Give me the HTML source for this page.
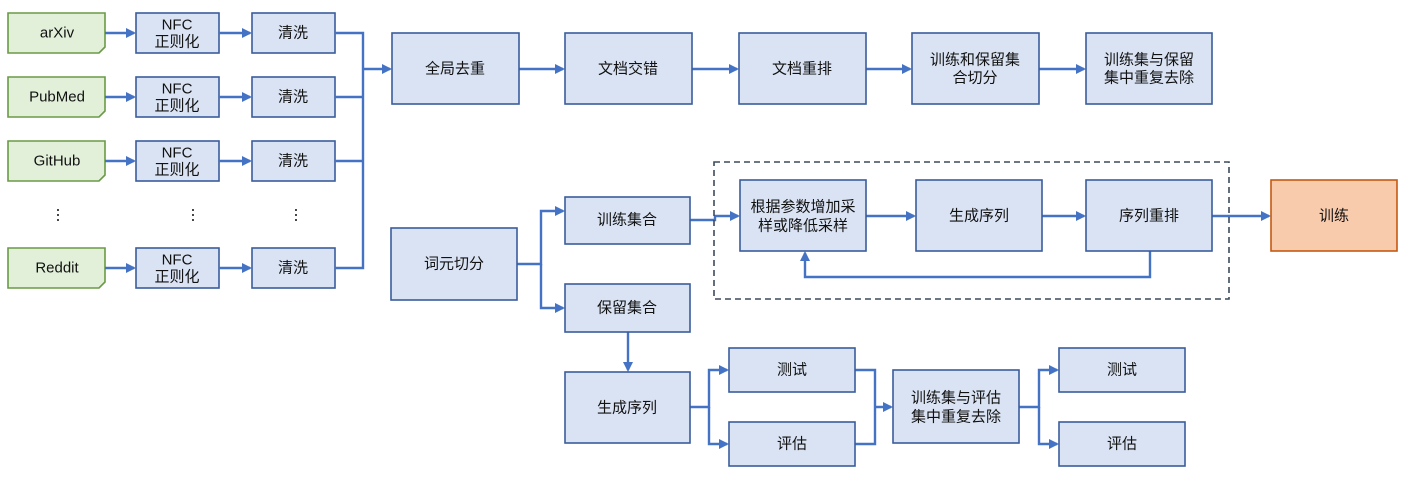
<!DOCTYPE html>
<html><head><meta charset="utf-8"><style>
body{margin:0;background:#fff;width:1418px;height:484px;overflow:hidden}
svg text{font-family:"Liberation Sans","Noto Sans CJK SC",sans-serif;font-size:15px;fill:#111;text-anchor:middle;dominant-baseline:central}
.b{fill:#dae3f3;stroke:#3a5d9c;stroke-width:1.6}
.g{fill:#e2f0d9;stroke:#6a9a45;stroke-width:1.6}
.l{fill:none;stroke:#4472c4;stroke-width:2.4}
</style></head><body>
<svg width="1418" height="484" xmlns="http://www.w3.org/2000/svg">
<defs><marker id="a" markerWidth="10" markerHeight="10" refX="8" refY="5" orient="auto" markerUnits="userSpaceOnUse"><path d="M0,0 L10,5 L0,10 z" fill="#4472c4"/></marker></defs>
<!-- sources -->
<g>
<path class="g" d="M8,13 H105 V47 L99,53 H8 Z"/><text x="57" y="33">arXiv</text>
<path class="g" d="M8,77 H105 V111 L99,117 H8 Z"/><text x="57" y="97">PubMed</text>
<path class="g" d="M8,141 H105 V175 L99,181 H8 Z"/><text x="57" y="161">GitHub</text>
<path class="g" d="M8,248 H105 V282 L99,288 H8 Z"/><text x="57" y="268">Reddit</text>
</g>
<g>
<rect class="b" x="136" y="13" width="83" height="40"/><text x="177" y="25">NFC</text><text x="177" y="42">正则化</text>
<rect class="b" x="136" y="77" width="83" height="40"/><text x="177" y="89">NFC</text><text x="177" y="106">正则化</text>
<rect class="b" x="136" y="141" width="83" height="40"/><text x="177" y="153">NFC</text><text x="177" y="170">正则化</text>
<rect class="b" x="136" y="248" width="83" height="40"/><text x="177" y="260">NFC</text><text x="177" y="277">正则化</text>
<rect class="b" x="252" y="13" width="83" height="40"/><text x="293" y="33">清洗</text>
<rect class="b" x="252" y="77" width="83" height="40"/><text x="293" y="97">清洗</text>
<rect class="b" x="252" y="141" width="83" height="40"/><text x="293" y="161">清洗</text>
<rect class="b" x="252" y="248" width="83" height="40"/><text x="293" y="268">清洗</text>
</g>
<text x="58" y="215">⋮</text><text x="193" y="215">⋮</text><text x="296" y="215">⋮</text>
<g class="l">
<path d="M105,33H134" marker-end="url(#a)"/><path d="M105,97H134" marker-end="url(#a)"/><path d="M105,161H134" marker-end="url(#a)"/><path d="M105,268H134" marker-end="url(#a)"/>
<path d="M219,33H250" marker-end="url(#a)"/><path d="M219,97H250" marker-end="url(#a)"/><path d="M219,161H250" marker-end="url(#a)"/><path d="M219,268H250" marker-end="url(#a)"/>
<path d="M335,33H363V268H335M335,97H363M335,161H363"/>
<path d="M363,69H390" marker-end="url(#a)"/>
<path d="M519,69H563" marker-end="url(#a)"/><path d="M692,69H737" marker-end="url(#a)"/><path d="M866,69H910" marker-end="url(#a)"/><path d="M1039,69H1084" marker-end="url(#a)"/>
<path d="M517,264H541V211H563" marker-end="url(#a)"/><path d="M541,264V308H563" marker-end="url(#a)"/>
<path d="M690,220H715V216H738" marker-end="url(#a)"/>
<path d="M866,216H914" marker-end="url(#a)"/><path d="M1042,216H1084" marker-end="url(#a)"/><path d="M1212,216H1269" marker-end="url(#a)"/>
<path d="M1150,251V277H805V253" marker-end="url(#a)"/>
<path d="M628,332V370" marker-end="url(#a)"/>
<path d="M690,407H709V370H727" marker-end="url(#a)"/><path d="M709,407V444H727" marker-end="url(#a)"/>
<path d="M855,370H875V444H855M875,407H891" marker-end="url(#a)"/>
<path d="M1019,407H1039V370H1057" marker-end="url(#a)"/><path d="M1039,407V444H1057" marker-end="url(#a)"/>
</g>
<rect x="714" y="162" width="515" height="137" fill="none" stroke="#3d4a5c" stroke-width="1.6" stroke-dasharray="6,4"/>
<rect class="b" x="392" y="33" width="127" height="71"/><text x="455" y="69">全局去重</text>
<rect class="b" x="565" y="33" width="127" height="71"/><text x="628" y="69">文档交错</text>
<rect class="b" x="739" y="33" width="127" height="71"/><text x="802" y="69">文档重排</text>
<rect class="b" x="912" y="33" width="127" height="71"/><text x="975" y="60">训练和保留集</text><text x="975" y="78">合切分</text>
<rect class="b" x="1086" y="33" width="126" height="71"/><text x="1149" y="60">训练集与保留</text><text x="1149" y="78">集中重复去除</text>
<rect class="b" x="391" y="228" width="126" height="72"/><text x="454" y="264">词元切分</text>
<rect class="b" x="565" y="197" width="125" height="47"/><text x="627" y="220">训练集合</text>
<rect class="b" x="565" y="284" width="125" height="48"/><text x="627" y="308">保留集合</text>
<rect class="b" x="565" y="372" width="125" height="71"/><text x="627" y="408">生成序列</text>
<rect class="b" x="740" y="180" width="126" height="71"/><text x="803" y="207">根据参数增加采</text><text x="803" y="226">样或降低采样</text>
<rect class="b" x="916" y="180" width="126" height="71"/><text x="979" y="216">生成序列</text>
<rect class="b" x="1086" y="180" width="126" height="71"/><text x="1149" y="216">序列重排</text>
<rect x="1271" y="180" width="126" height="71" fill="#f8cbad" stroke="#c55a11" stroke-width="1.6"/><text x="1334" y="216">训练</text>
<rect class="b" x="729" y="348" width="126" height="44"/><text x="792" y="370">测试</text>
<rect class="b" x="729" y="422" width="126" height="44"/><text x="792" y="444">评估</text>
<rect class="b" x="893" y="370" width="126" height="73"/><text x="956" y="398">训练集与评估</text><text x="956" y="417">集中重复去除</text>
<rect class="b" x="1059" y="348" width="126" height="44"/><text x="1122" y="370">测试</text>
<rect class="b" x="1059" y="422" width="126" height="44"/><text x="1122" y="444">评估</text>
</svg>
</body></html>
